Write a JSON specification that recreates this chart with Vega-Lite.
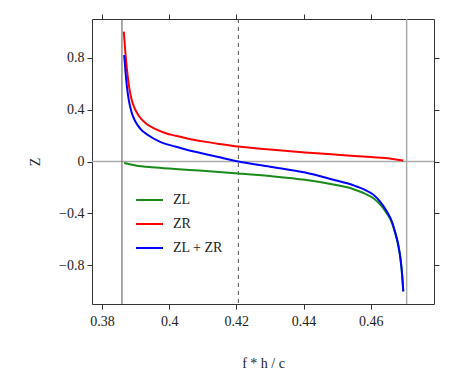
{
  "$schema": "https://vega.github.io/schema/vega-lite/v6.json",
  "autosize": "none",
  "width": 342,
  "height": 285,
  "padding": {"left": 92, "top": 19, "right": 23, "bottom": 77},
  "background": "white",
  "config": {
    "font": "Liberation Serif, Times New Roman, serif",
    "view": {"stroke": "#333", "strokeWidth": 1},
    "axis": {
      "labelFont": "Liberation Serif, Times New Roman, serif",
      "titleFont": "Liberation Serif, Times New Roman, serif",
      "labelFontSize": 14,
      "titleFontSize": 14,
      "titleFontWeight": "normal",
      "labelColor": "#222",
      "titleColor": "#222",
      "tickColor": "#333",
      "domainColor": "#333",
      "tickSize": 5,
      "grid": false
    },
    "legend": {"labelFont": "Liberation Serif, Times New Roman, serif"},
    "text": {"font": "Liberation Serif, Times New Roman, serif"}
  },
  "datasets": {
    "curves": [
      {"x": 0.3866, "z": -0.012, "series": "ZL"},
      {"x": 0.3900, "z": -0.030, "series": "ZL"},
      {"x": 0.3950, "z": -0.045, "series": "ZL"},
      {"x": 0.4018, "z": -0.058, "series": "ZL"},
      {"x": 0.4100, "z": -0.072, "series": "ZL"},
      {"x": 0.4206, "z": -0.092, "series": "ZL"},
      {"x": 0.4300, "z": -0.112, "series": "ZL"},
      {"x": 0.4405, "z": -0.141, "series": "ZL"},
      {"x": 0.4509, "z": -0.187, "series": "ZL"},
      {"x": 0.4533, "z": -0.200, "series": "ZL"},
      {"x": 0.4558, "z": -0.222, "series": "ZL"},
      {"x": 0.4583, "z": -0.248, "series": "ZL"},
      {"x": 0.4608, "z": -0.283, "series": "ZL"},
      {"x": 0.4628, "z": -0.330, "series": "ZL"},
      {"x": 0.4648, "z": -0.400, "series": "ZL"},
      {"x": 0.4663, "z": -0.470, "series": "ZL"},
      {"x": 0.4672, "z": -0.543, "series": "ZL"},
      {"x": 0.4682, "z": -0.645, "series": "ZL"},
      {"x": 0.4689, "z": -0.758, "series": "ZL"},
      {"x": 0.4694, "z": -0.886, "series": "ZL"},
      {"x": 0.4697, "z": -1.000, "series": "ZL"},
      {"x": 0.3865, "z": 1.00, "series": "ZR"},
      {"x": 0.3867, "z": 0.93, "series": "ZR"},
      {"x": 0.3869, "z": 0.86, "series": "ZR"},
      {"x": 0.3872, "z": 0.77, "series": "ZR"},
      {"x": 0.3876, "z": 0.67, "series": "ZR"},
      {"x": 0.3881, "z": 0.57, "series": "ZR"},
      {"x": 0.3888, "z": 0.48, "series": "ZR"},
      {"x": 0.3897, "z": 0.41, "series": "ZR"},
      {"x": 0.3910, "z": 0.35, "series": "ZR"},
      {"x": 0.3930, "z": 0.295, "series": "ZR"},
      {"x": 0.3955, "z": 0.255, "series": "ZR"},
      {"x": 0.3990, "z": 0.218, "series": "ZR"},
      {"x": 0.4020, "z": 0.198, "series": "ZR"},
      {"x": 0.4060, "z": 0.174, "series": "ZR"},
      {"x": 0.4100, "z": 0.155, "series": "ZR"},
      {"x": 0.4150, "z": 0.135, "series": "ZR"},
      {"x": 0.4206, "z": 0.115, "series": "ZR"},
      {"x": 0.4300, "z": 0.092, "series": "ZR"},
      {"x": 0.4405, "z": 0.070, "series": "ZR"},
      {"x": 0.4500, "z": 0.052, "series": "ZR"},
      {"x": 0.4600, "z": 0.034, "series": "ZR"},
      {"x": 0.4660, "z": 0.022, "series": "ZR"},
      {"x": 0.4697, "z": 0.008, "series": "ZR"},
      {"x": 0.3866, "z": 0.82, "series": "ZL + ZR"},
      {"x": 0.3868, "z": 0.76, "series": "ZL + ZR"},
      {"x": 0.3871, "z": 0.66, "series": "ZL + ZR"},
      {"x": 0.3875, "z": 0.56, "series": "ZL + ZR"},
      {"x": 0.3880, "z": 0.47, "series": "ZL + ZR"},
      {"x": 0.3888, "z": 0.38, "series": "ZL + ZR"},
      {"x": 0.3899, "z": 0.31, "series": "ZL + ZR"},
      {"x": 0.3915, "z": 0.25, "series": "ZL + ZR"},
      {"x": 0.3939, "z": 0.20, "series": "ZL + ZR"},
      {"x": 0.3970, "z": 0.155, "series": "ZL + ZR"},
      {"x": 0.4018, "z": 0.115, "series": "ZL + ZR"},
      {"x": 0.4060, "z": 0.085, "series": "ZL + ZR"},
      {"x": 0.4100, "z": 0.062, "series": "ZL + ZR"},
      {"x": 0.4150, "z": 0.032, "series": "ZL + ZR"},
      {"x": 0.4206, "z": 0.000, "series": "ZL + ZR"},
      {"x": 0.4300, "z": -0.040, "series": "ZL + ZR"},
      {"x": 0.4405, "z": -0.085, "series": "ZL + ZR"},
      {"x": 0.4509, "z": -0.154, "series": "ZL + ZR"},
      {"x": 0.4533, "z": -0.169, "series": "ZL + ZR"},
      {"x": 0.4558, "z": -0.192, "series": "ZL + ZR"},
      {"x": 0.4583, "z": -0.218, "series": "ZL + ZR"},
      {"x": 0.4608, "z": -0.256, "series": "ZL + ZR"},
      {"x": 0.4628, "z": -0.308, "series": "ZL + ZR"},
      {"x": 0.4648, "z": -0.385, "series": "ZL + ZR"},
      {"x": 0.4663, "z": -0.462, "series": "ZL + ZR"},
      {"x": 0.4672, "z": -0.538, "series": "ZL + ZR"},
      {"x": 0.4682, "z": -0.641, "series": "ZL + ZR"},
      {"x": 0.4689, "z": -0.756, "series": "ZL + ZR"},
      {"x": 0.4694, "z": -0.885, "series": "ZL + ZR"},
      {"x": 0.4697, "z": -1.000, "series": "ZL + ZR"}
    ],
    "leftline": [{"x": 0.38595}],
    "rightline": [{"x": 0.4707}],
    "dashline": [{"x": 0.4206}],
    "hline": [{"z": 0}]
  },
  "resolve": {"axis": {"x": "independent", "y": "independent"}},
  "layer": [
    {
      "data": {"name": "hline"},
      "mark": {"type": "rule", "color": "#aaaaaa", "strokeWidth": 1.3},
      "encoding": {
        "y": {"field": "z", "type": "quantitative", "scale": {"domain": [-1.097, 1.097], "nice": false, "zero": false},
          "axis": {"orient": "right", "labels": false, "title": null, "values": [-0.8, -0.4, 0, 0.4, 0.8], "domain": false}}
      }
    },
    {
      "data": {"name": "leftline"},
      "mark": {"type": "rule", "color": "#555555", "strokeWidth": 1},
      "encoding": {
        "x": {"field": "x", "type": "quantitative", "scale": {"domain": [0.37703, 0.47884], "nice": false, "zero": false},
          "axis": {"orient": "top", "labels": false, "title": null, "values": [0.38, 0.40, 0.42, 0.44, 0.46], "domain": false}}
      }
    },
    {
      "data": {"name": "rightline"},
      "mark": {"type": "rule", "color": "#aaaaaa", "strokeWidth": 1.5},
      "encoding": {
        "x": {"field": "x", "type": "quantitative", "axis": null}
      }
    },
    {
      "data": {"name": "dashline"},
      "mark": {"type": "rule", "color": "#555555", "strokeWidth": 1, "strokeDash": [4, 4]},
      "encoding": {
        "x": {"field": "x", "type": "quantitative", "axis": null}
      }
    },
    {
      "data": {"name": "curves"},
      "mark": {"type": "line", "strokeWidth": 2, "interpolate": "monotone"},
      "encoding": {
        "x": {"field": "x", "type": "quantitative",
          "axis": {"orient": "bottom", "title": "f * h / c", "values": [0.38, 0.40, 0.42, 0.44, 0.46], "format": "~g", "labelPadding": 5, "titlePadding": 28, "domain": false}},
        "y": {"field": "z", "type": "quantitative",
          "axis": {"orient": "left", "title": "Z", "values": [-0.8, -0.4, 0, 0.4, 0.8], "format": "~g", "labelPadding": 3, "titlePadding": 16, "domain": false}},
        "color": {"field": "series", "type": "nominal",
          "scale": {"domain": ["ZL", "ZR", "ZL + ZR"], "range": ["#1a8a1a", "#ff0000", "#0000ff"]},
          "legend": {"title": null, "orient": "none", "legendX": 43, "legendY": 173, "padding": 0,
            "symbolType": "stroke", "symbolSize": 729, "symbolStrokeWidth": 2,
            "labelFont": "Liberation Serif, Times New Roman, serif", "labelFontSize": 14, "labelColor": "#222",
            "labelOffset": 9, "clipHeight": 16, "rowPadding": 8}
        },
        "order": {"field": "x", "type": "quantitative"}
      }
    }
  ]
}
